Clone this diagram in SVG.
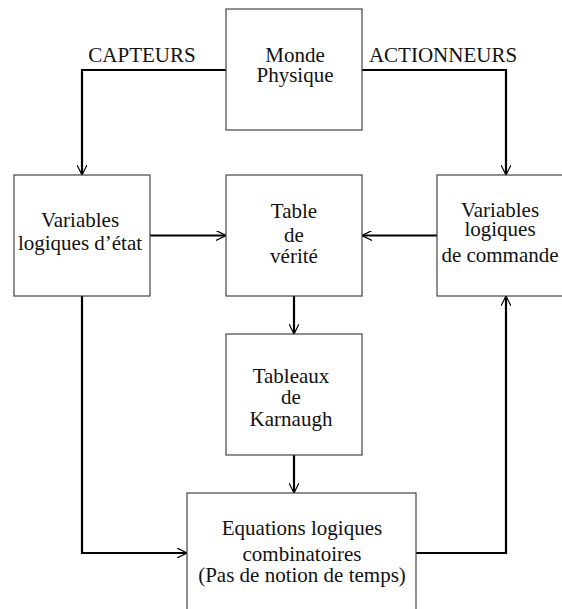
<svg xmlns="http://www.w3.org/2000/svg" width="562" height="609" viewBox="0 0 562 609">
<defs>
<marker id="ah" viewBox="0 0 10 10" refX="10" refY="5" markerWidth="10" markerHeight="10" markerUnits="userSpaceOnUse" orient="auto">
<path d="M0,0 L10,5 L0,10" fill="none" stroke="#000" stroke-width="1.2"/>
</marker>
<style>
.box{fill:#fff;stroke:#444;stroke-width:1.2}
text{font-family:"Liberation Serif","Times New Roman",serif;font-size:21px;fill:#111;text-anchor:middle}
.c{fill:none;stroke:#000;stroke-width:2.2;marker-end:url(#ah)}
</style>
</defs>
<rect width="562" height="609" fill="#fff"/>
<g id="connectors">
<polyline class="c" points="226,70 82,70 82,175"/>
<polyline class="c" points="362,70 506,70 506,175"/>
<line class="c" x1="150" y1="235.5" x2="226" y2="235.5"/>
<line class="c" x1="437" y1="235.5" x2="362" y2="235.5"/>
<line class="c" x1="294" y1="296" x2="294" y2="334"/>
<line class="c" x1="294" y1="455" x2="294" y2="493"/>
<polyline class="c" points="82,296 82,553 187,553"/>
<polyline class="c" points="416,553 506,553 506,296"/>
<text x="142" y="62">CAPTEURS</text>
<text x="443" y="62">ACTIONNEURS</text>
</g>
<g id="monde">
<rect class="box" x="226" y="9" width="136" height="121"/>
<text x="295" y="61.5">Monde</text>
<text x="295" y="82">Physique</text>
</g>
<g id="etat">
<rect class="box" x="14" y="175" width="136" height="121"/>
<text x="80" y="226.5">Variables</text>
<text x="80" y="249.5">logiques d’état</text>
</g>
<g id="table">
<rect class="box" x="226" y="175" width="136" height="121"/>
<text x="294" y="218">Table</text>
<text x="294" y="241.5">de</text>
<text x="294" y="262.5">vérité</text>
</g>
<g id="commande">
<rect class="box" x="437" y="175" width="140" height="121"/>
<text x="500" y="216.5">Variables</text>
<text x="500" y="236">logiques</text>
<text x="500" y="261.5">de commande</text>
</g>
<g id="karnaugh">
<rect class="box" x="226" y="334" width="136" height="121"/>
<text x="291" y="382.5">Tableaux</text>
<text x="291" y="404">de</text>
<text x="291" y="426">Karnaugh</text>
</g>
<g id="equations">
<rect class="box" x="187" y="493" width="229" height="130"/>
<text x="302" y="534.5">Equations logiques</text>
<text x="302" y="561">combinatoires</text>
<text x="302" y="582">(Pas de notion de temps)</text>
</g>
</svg>
